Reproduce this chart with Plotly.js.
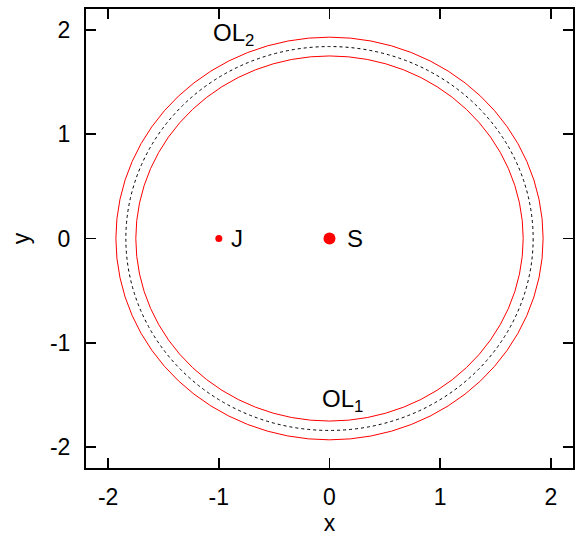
<!DOCTYPE html>
<html>
<head>
<meta charset="utf-8">
<script src="https://cdn.plot.ly/plotly-3.0.1.min.js"></script>
<style>
  body { margin: 0; padding: 0; background: #fff; }
  #plot { width: 576px; height: 536px; }
</style>
</head>
<body>
<div id="plot"></div>
<script>
// bodies: name, position, marker size
var bodyNames = ['J', 'S'];
var bodyX = [-1, 0];
var bodyY = [0, 0];
var bodySize = [7, 12];

// orbit radii (red limits and dotted orbit)
var outerR = 1.93;
var innerR = 1.75;
var orbitR = 1.84;

// text labels
var labelText = ['J', 'S', 'OL<sub>2</sub>', 'OL<sub>1</sub>'];
var labelX = [-0.84, 0.23, -0.87, 0.12];
var labelY = [0, 0, 1.96, -1.55];

var tickVals = [-2, -1, 0, 1, 2];
var tickText = ['-2', '-1', '0', '1', '2'];

var traces = [{
  x: bodyX,
  y: bodyY,
  mode: 'markers',
  type: 'scatter',
  marker: { color: '#ff0000', size: bodySize, opacity: 1, line: { width: 0 } },
  showlegend: false,
  hoverinfo: 'none'
}];

function circ(r, style) {
  return {
    type: 'circle', xref: 'x', yref: 'y',
    x0: -r, x1: r, y0: -r, y1: r,
    line: style, layer: 'above'
  };
}

var shapes = [
  circ(outerR, { color: '#ff0000', width: 1 }),
  circ(innerR, { color: '#ff0000', width: 1 }),
  circ(orbitR, { color: '#000000', width: 1, dash: 'dot' })
];

var annots = [];
for (var i = 0; i < labelText.length; i++) {
  annots.push({
    x: labelX[i], y: labelY[i], xref: 'x', yref: 'y',
    text: labelText[i], showarrow: false,
    font: { size: 24, color: '#000' }
  });
}

var axisStyle = {
  range: [-2.2, 2.2],
  tickvals: tickVals,
  ticktext: tickText,
  ticks: 'inside',
  ticklen: 10,
  tickwidth: 1.5,
  tickcolor: '#000',
  showline: true,
  linecolor: '#000',
  linewidth: 2,
  mirror: 'ticks',
  showgrid: false,
  zeroline: false,
  tickfont: { size: 23, color: '#000' }
};

var xaxis = Object.assign({}, axisStyle, {
  ticklabelstandoff: 7,
  title: { text: 'x', font: { size: 23, color: '#000' }, standoff: 4 }
});
var yaxis = Object.assign({}, axisStyle, {
  ticklabelstandoff: 9,
  title: { text: 'y', font: { size: 23, color: '#000' }, standoff: 14 }
});

var layout = {
  width: 576,
  height: 536,
  margin: { l: 86, r: 3, t: 9, b: 68 },
  font: { family: '"Liberation Sans", Arial, sans-serif', color: '#000' },
  paper_bgcolor: '#fff',
  plot_bgcolor: '#fff',
  xaxis: xaxis,
  yaxis: yaxis,
  shapes: shapes,
  annotations: annots,
  showlegend: false
};

Plotly.newPlot('plot', traces, layout, { displayModeBar: false, staticPlot: true });
</script>
</body>
</html>
